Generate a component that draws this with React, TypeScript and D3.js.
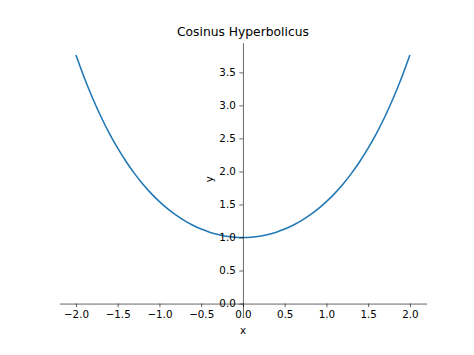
import React, { useEffect, useRef } from 'react';
import * as d3 from 'd3';

const xValues = [
  -2.0, -1.9, -1.8, -1.7, -1.6, -1.5, -1.4, -1.3, -1.2, -1.1, -1.0,
  -0.9, -0.8, -0.7, -0.6, -0.5, -0.4, -0.3, -0.2, -0.1, 0.0,
  0.1, 0.2, 0.3, 0.4, 0.5, 0.6, 0.7, 0.8, 0.9, 1.0,
  1.1, 1.2, 1.3, 1.4, 1.5, 1.6, 1.7, 1.8, 1.9, 2.0,
];
const yValues = [
  3.7622, 3.4177, 3.1075, 2.8283, 2.5775, 2.3524, 2.1509, 1.9709, 1.8107, 1.6685, 1.5431,
  1.4331, 1.3374, 1.2552, 1.1855, 1.1276, 1.0811, 1.0453, 1.0201, 1.005, 1.0,
  1.005, 1.0201, 1.0453, 1.0811, 1.1276, 1.1855, 1.2552, 1.3374, 1.4331, 1.5431,
  1.6685, 1.8107, 1.9709, 2.1509, 2.3524, 2.5775, 2.8283, 3.1075, 3.4177, 3.7622,
];
const xTicks = [-2.0, -1.5, -1.0, -0.5, 0.0, 0.5, 1.0, 1.5, 2.0];
const yTicks = [0.0, 0.5, 1.0, 1.5, 2.0, 2.5, 3.0, 3.5];

const W = 474;
const H = 355;

const App = () => {
  const svgRef = useRef<SVGSVGElement>(null);

  useEffect(() => {
    const svg = d3.select(svgRef.current);
    svg.selectAll('*').remove();

    const left = 59.25, right = 426.6, top = 42.6, bottom = 316;
    const font = 'DejaVu Sans, sans-serif';

    const x = d3.scaleLinear().domain([-2.2, 2.2]).range([left, right]);
    const y = d3.scaleLinear().domain([-0.1881, 3.9503]).range([bottom, top]);

    svg.append('rect').attr('width', W).attr('height', H).attr('fill', '#fff');

    const data = xValues.map((v, i) => [v, yValues[i]] as [number, number]);
    svg.append('path')
      .datum(data)
      .attr('fill', 'none')
      .attr('stroke', '#1f77b4')
      .attr('stroke-width', 1.55)
      .attr('d', d3.line().x(d => x(d[0])).y(d => y(d[1])).curve(d3.curveMonotoneX));

    // x axis at y = 0
    const xAxis = svg.append('g')
      .attr('transform', `translate(0, ${y(0)})`)
      .call(d3.axisBottom(x).tickValues(xTicks).tickFormat(d3.format('.1f')).tickSizeInner(3.6).tickSizeOuter(0).tickPadding(3.6));

    // y axis at x = 0
    const yAxis = svg.append('g')
      .attr('transform', `translate(${x(0)}, 0)`)
      .call(d3.axisLeft(y).tickValues(yTicks).tickFormat(d3.format('.1f')).tickSizeInner(3.6).tickSizeOuter(0).tickPadding(3.6));

    [xAxis, yAxis].forEach(g => {
      g.select('.domain').attr('stroke', '#000').attr('stroke-width', 0.6);
      g.selectAll('.tick line').attr('stroke', '#000').attr('stroke-width', 0.6);
      g.selectAll('.tick text')
        .attr('fill', '#000')
        .style('font-family', font)
        .style('font-size', '10.3px');
    });
    xAxis.selectAll('.tick text').text((d: any) => (d < 0 ? '\u2212' + Math.abs(d).toFixed(1) : d.toFixed(1)));

    svg.append('text')
      .attr('x', (left + right) / 2)
      .attr('y', 36)
      .attr('text-anchor', 'middle')
      .style('font-family', font)
      .style('font-size', '12.3px')
      .text('Cosinus Hyperbolicus');

    svg.append('text')
      .attr('x', x(0))
      .attr('y', 334)
      .attr('text-anchor', 'middle')
      .style('font-family', font)
      .style('font-size', '10.3px')
      .text('x');

    svg.append('text')
      .attr('transform', `translate(213, ${(top + bottom) / 2}) rotate(-90)`)
      .attr('text-anchor', 'middle')
      .style('font-family', font)
      .style('font-size', '10.3px')
      .text('y');
  }, []);

  return <svg ref={svgRef} width={W} height={H} style={{ position: 'absolute', left: 0, top: 0 }}></svg>;
};

export default App;
